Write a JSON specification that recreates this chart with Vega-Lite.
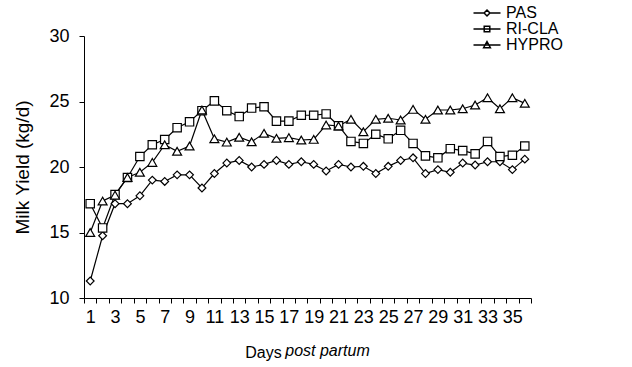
{
  "$schema": "https://vega.github.io/schema/vega-lite/v6.json",
  "width": 447,
  "height": 262,
  "autosize": {"type": "none"},
  "padding": {"left": 84, "top": 36, "right": 101, "bottom": 69},
  "background": "white",
  "config": {
    "view": {"stroke": null},
    "font": "Liberation Sans",
    "axis": {
      "domainColor": "black", "tickColor": "black", "labelColor": "black", "titleColor": "black",
      "labelFont": "Liberation Sans", "titleFont": "Liberation Sans",
      "labelFontSize": 18, "titleFontSize": 16, "titleFontWeight": "normal",
      "grid": false, "tickSize": 5, "domainWidth": 1, "tickWidth": 1
    }
  },
  "title": {
    "text": "post partum", "orient": "bottom", "anchor": "middle", "frame": "group",
    "fontStyle": "italic", "fontWeight": "normal", "fontSize": 16, "font": "Liberation Sans",
    "color": "black", "dx": 20, "offset": -17
  },
  "data": {
    "values": [
      {"day": 1, "series": "PAS", "value": 11.3},
      {"day": 2, "series": "PAS", "value": 14.75},
      {"day": 3, "series": "PAS", "value": 17.2},
      {"day": 4, "series": "PAS", "value": 17.2},
      {"day": 5, "series": "PAS", "value": 17.8},
      {"day": 6, "series": "PAS", "value": 19.0},
      {"day": 7, "series": "PAS", "value": 18.9},
      {"day": 8, "series": "PAS", "value": 19.4},
      {"day": 9, "series": "PAS", "value": 19.4},
      {"day": 10, "series": "PAS", "value": 18.4},
      {"day": 11, "series": "PAS", "value": 19.5},
      {"day": 12, "series": "PAS", "value": 20.3},
      {"day": 13, "series": "PAS", "value": 20.5},
      {"day": 14, "series": "PAS", "value": 20.0},
      {"day": 15, "series": "PAS", "value": 20.2},
      {"day": 16, "series": "PAS", "value": 20.5},
      {"day": 17, "series": "PAS", "value": 20.2},
      {"day": 18, "series": "PAS", "value": 20.4},
      {"day": 19, "series": "PAS", "value": 20.2},
      {"day": 20, "series": "PAS", "value": 19.7},
      {"day": 21, "series": "PAS", "value": 20.2},
      {"day": 22, "series": "PAS", "value": 20.0},
      {"day": 23, "series": "PAS", "value": 20.05},
      {"day": 24, "series": "PAS", "value": 19.5},
      {"day": 25, "series": "PAS", "value": 20.05},
      {"day": 26, "series": "PAS", "value": 20.5},
      {"day": 27, "series": "PAS", "value": 20.7},
      {"day": 28, "series": "PAS", "value": 19.5},
      {"day": 29, "series": "PAS", "value": 19.8},
      {"day": 30, "series": "PAS", "value": 19.6},
      {"day": 31, "series": "PAS", "value": 20.3},
      {"day": 32, "series": "PAS", "value": 20.15},
      {"day": 33, "series": "PAS", "value": 20.4},
      {"day": 34, "series": "PAS", "value": 20.4},
      {"day": 35, "series": "PAS", "value": 19.8},
      {"day": 36, "series": "PAS", "value": 20.6},
      {"day": 1, "series": "RI-CLA", "value": 17.2},
      {"day": 2, "series": "RI-CLA", "value": 15.35},
      {"day": 3, "series": "RI-CLA", "value": 17.9},
      {"day": 4, "series": "RI-CLA", "value": 19.2},
      {"day": 5, "series": "RI-CLA", "value": 20.8},
      {"day": 6, "series": "RI-CLA", "value": 21.7},
      {"day": 7, "series": "RI-CLA", "value": 22.1},
      {"day": 8, "series": "RI-CLA", "value": 23.0},
      {"day": 9, "series": "RI-CLA", "value": 23.45},
      {"day": 10, "series": "RI-CLA", "value": 24.3},
      {"day": 11, "series": "RI-CLA", "value": 25.05},
      {"day": 12, "series": "RI-CLA", "value": 24.3},
      {"day": 13, "series": "RI-CLA", "value": 23.85},
      {"day": 14, "series": "RI-CLA", "value": 24.5},
      {"day": 15, "series": "RI-CLA", "value": 24.6},
      {"day": 16, "series": "RI-CLA", "value": 23.5},
      {"day": 17, "series": "RI-CLA", "value": 23.5},
      {"day": 18, "series": "RI-CLA", "value": 23.95},
      {"day": 19, "series": "RI-CLA", "value": 23.95},
      {"day": 20, "series": "RI-CLA", "value": 24.05},
      {"day": 21, "series": "RI-CLA", "value": 23.15},
      {"day": 22, "series": "RI-CLA", "value": 21.95},
      {"day": 23, "series": "RI-CLA", "value": 21.8},
      {"day": 24, "series": "RI-CLA", "value": 22.5},
      {"day": 25, "series": "RI-CLA", "value": 22.15},
      {"day": 26, "series": "RI-CLA", "value": 22.8},
      {"day": 27, "series": "RI-CLA", "value": 21.8},
      {"day": 28, "series": "RI-CLA", "value": 20.85},
      {"day": 29, "series": "RI-CLA", "value": 20.7},
      {"day": 30, "series": "RI-CLA", "value": 21.4},
      {"day": 31, "series": "RI-CLA", "value": 21.25},
      {"day": 32, "series": "RI-CLA", "value": 21.0},
      {"day": 33, "series": "RI-CLA", "value": 21.95},
      {"day": 34, "series": "RI-CLA", "value": 20.8},
      {"day": 35, "series": "RI-CLA", "value": 20.9},
      {"day": 36, "series": "RI-CLA", "value": 21.6},
      {"day": 1, "series": "HYPRO", "value": 15.0},
      {"day": 2, "series": "HYPRO", "value": 17.4},
      {"day": 3, "series": "HYPRO", "value": 17.85},
      {"day": 4, "series": "HYPRO", "value": 19.2},
      {"day": 5, "series": "HYPRO", "value": 19.6},
      {"day": 6, "series": "HYPRO", "value": 20.35},
      {"day": 7, "series": "HYPRO", "value": 21.7},
      {"day": 8, "series": "HYPRO", "value": 21.2},
      {"day": 9, "series": "HYPRO", "value": 21.6},
      {"day": 10, "series": "HYPRO", "value": 24.35},
      {"day": 11, "series": "HYPRO", "value": 22.15},
      {"day": 12, "series": "HYPRO", "value": 21.9},
      {"day": 13, "series": "HYPRO", "value": 22.27},
      {"day": 14, "series": "HYPRO", "value": 21.93},
      {"day": 15, "series": "HYPRO", "value": 22.57},
      {"day": 16, "series": "HYPRO", "value": 22.19},
      {"day": 17, "series": "HYPRO", "value": 22.24},
      {"day": 18, "series": "HYPRO", "value": 22.06},
      {"day": 19, "series": "HYPRO", "value": 22.11},
      {"day": 20, "series": "HYPRO", "value": 23.21},
      {"day": 21, "series": "HYPRO", "value": 23.13},
      {"day": 22, "series": "HYPRO", "value": 23.64},
      {"day": 23, "series": "HYPRO", "value": 22.69},
      {"day": 24, "series": "HYPRO", "value": 23.64},
      {"day": 25, "series": "HYPRO", "value": 23.72},
      {"day": 26, "series": "HYPRO", "value": 23.59},
      {"day": 27, "series": "HYPRO", "value": 24.4},
      {"day": 28, "series": "HYPRO", "value": 23.64},
      {"day": 29, "series": "HYPRO", "value": 24.35},
      {"day": 30, "series": "HYPRO", "value": 24.35},
      {"day": 31, "series": "HYPRO", "value": 24.45},
      {"day": 32, "series": "HYPRO", "value": 24.73},
      {"day": 33, "series": "HYPRO", "value": 25.29},
      {"day": 34, "series": "HYPRO", "value": 24.45},
      {"day": 35, "series": "HYPRO", "value": 25.29},
      {"day": 36, "series": "HYPRO", "value": 24.86}
    ]
  },
  "encoding": {
    "x": {
      "field": "day", "type": "ordinal", "bandPosition": 0.5,
      "scale": {"type": "band", "paddingInner": 0, "paddingOuter": 0},
      "axis": {
        "title": "Days", "titleX": 179, "titleY": 54, "titleBaseline": "middle", "titleAlign": "center",
        "labelAngle": 0, "labelExpr": "datum.value % 2 == 1 ? datum.label : ''",
        "labelOverlap": false, "tickBand": "extent", "labelPadding": 5
      }
    },
    "y": {
      "field": "value", "type": "quantitative",
      "scale": {"domain": [10, 30], "nice": false, "zero": false},
      "axis": {
        "title": "Milk Yield (kg/d)", "values": [10, 15, 20, 25, 30], "titleFontSize": 19,
        "labelPadding": 10, "titleX": -62, "titleY": 131, "titleBaseline": "middle", "titleAlign": "center", "titleAngle": -90
      }
    }
  },
  "layer": [
    {
      "mark": {"type": "line", "color": "black", "strokeWidth": 1.2},
      "encoding": {"detail": {"field": "series", "type": "nominal"}}
    },
    {
      "mark": {"type": "point", "filled": true, "fill": "white", "stroke": "black", "strokeWidth": 1.2, "opacity": 1},
      "encoding": {
        "shape": {
          "field": "series", "type": "nominal",
          "scale": {"domain": ["PAS", "RI-CLA", "HYPRO"], "range": ["diamond", "square", "triangle-up"]},
          "legend": null
        },
        "size": {
          "field": "series", "type": "nominal",
          "scale": {"domain": ["PAS", "RI-CLA", "HYPRO"], "range": [60, 80, 90]},
          "legend": null
        }
      }
    },
    {
      "transform": [{"filter": "datum.day < 0"}],
      "mark": {"type": "point", "filled": true, "fill": "white", "stroke": "black", "strokeWidth": 1, "opacity": 1},
      "encoding": {
        "shape": {
          "field": "series", "type": "nominal",
          "scale": {
            "domain": ["PAS", "RI-CLA", "HYPRO"],
            "range": [
              "M-3,0H-0.65M0.65,0H3M0,-0.65L0.65,0L0,0.65L-0.65,0Z",
              "M-3,0H3M-0.62,-0.62H0.62V0.62H-0.62Z",
              "M-3,0H3M0,-0.75L0.75,0.6H-0.75Z"
            ]
          },
          "legend": {
            "orient": "none", "legendX": 395, "legendY": -31, "title": null,
            "symbolSize": 81, "labelFontSize": 16, "labelOffset": 11, "rowPadding": -10,
            "labelColor": "black", "labelFont": "Liberation Sans", "padding": 0,
            "encode": {
              "symbols": {
                "update": {
                  "stroke": {"value": "black"}, "fill": {"value": "white"},
                  "strokeWidth": {"value": 1}, "opacity": {"value": 1}
                }
              }
            }
          }
        }
      }
    }
  ],
  "resolve": {"scale": {"shape": "independent"}}
}
